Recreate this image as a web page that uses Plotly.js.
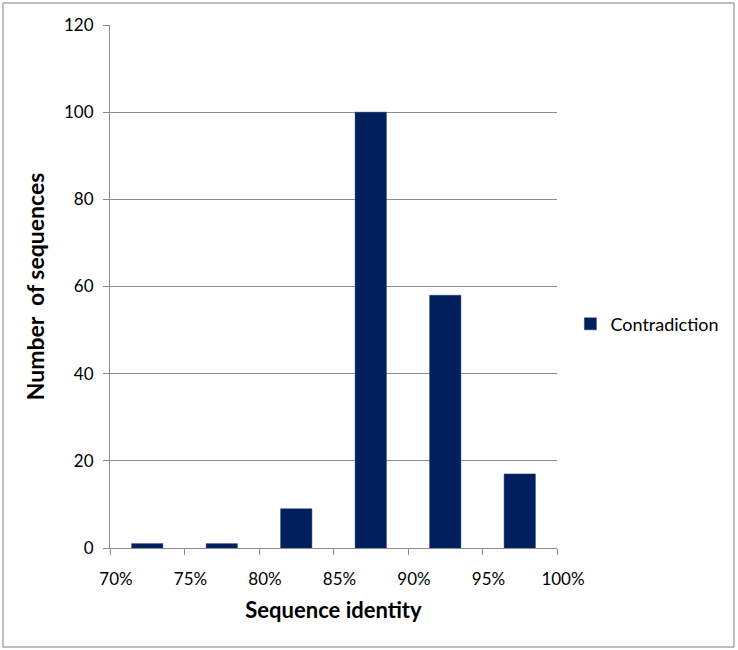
<!DOCTYPE html>
<html>
<head>
<meta charset="utf-8">
<script src="https://cdn.plot.ly/plotly-3.0.1.min.js"></script>
<style>
  html, body { margin: 0; padding: 0; background: #fff; }
  #chart { width: 738px; height: 650px; }
</style>
</head>
<body>
<div id="chart"></div>
<script>
// bin centres (percent identity) and counts
const binCenters = [72.5, 77.5, 82.5, 87.5, 92.5, 97.5];
const counts = [1, 1, 9, 100, 58, 17];
const seriesName = "Contradiction";

const xTickVals = [70, 75, 80, 85, 90, 95, 100];
const xTickText = ["70%", "75%", "80%", "85%", "90%", "95%", "100%"];
const yTickVals = [0, 20, 40, 60, 80, 100, 120];

const fontFamily = "Lato, 'Open Sans', sans-serif";
const gridGray = "#8c8c8c";

const data = [{
  type: "bar",
  x: binCenters,
  y: counts,
  width: 2.1,
  name: seriesName,
  marker: { color: "#001f5c", line: { color: "#1a3a7a", width: 0.5 } },
  showlegend: true
}];

const layout = {
  width: 738,
  height: 650,
  paper_bgcolor: "#ffffff",
  plot_bgcolor: "#ffffff",
  font: { family: fontFamily, size: 17, color: "#000" },
  margin: { l: 110, r: 181, t: 25, b: 102, autoexpand: false },
  xaxis: {
    range: [70, 100],
    automargin: false,
    tickmode: "array",
    tickvals: xTickVals,
    ticktext: xTickText,
    ticks: "outside",
    ticklen: 6,
    tickcolor: gridGray,
    showline: true,
    linecolor: gridGray,
    showgrid: false,
    zeroline: false,
    ticklabelshift: 6,
    ticklabelstandoff: 10,
    tickfont: { size: 17 },
    title: { text: "Sequence identity", font: { size: 22, weight: "bold" }, standoff: 14 }
  },
  yaxis: {
    range: [0, 120],
    automargin: false,
    tickmode: "array",
    tickvals: yTickVals,
    ticks: "outside",
    ticklen: 6,
    tickcolor: gridGray,
    showline: true,
    linecolor: gridGray,
    showgrid: true,
    gridcolor: gridGray,
    zeroline: false,
    ticklabelstandoff: 6,
    tickfont: { size: 17 },
    title: { text: "Number \u00a0of sequences", font: { size: 23, weight: "bold" }, standoff: 12 }
  },
  legend: {
    x: 1.03, xanchor: "left",
    y: 0.428, yanchor: "middle",
    font: { size: 18 },
    itemwidth: 30
  },
  bargap: 0,
  shapes: [{
    type: "rect", xref: "paper", yref: "paper",
    x0: -107 / 447, x1: 1 + 177 / 447,
    y0: -99 / 523, y1: 1 + 22 / 523,
    line: { color: "#7f7f7f", width: 1 }
  }]
};

Plotly.newPlot("chart", data, layout, { displayModeBar: false, staticPlot: true });
</script>
</body>
</html>
